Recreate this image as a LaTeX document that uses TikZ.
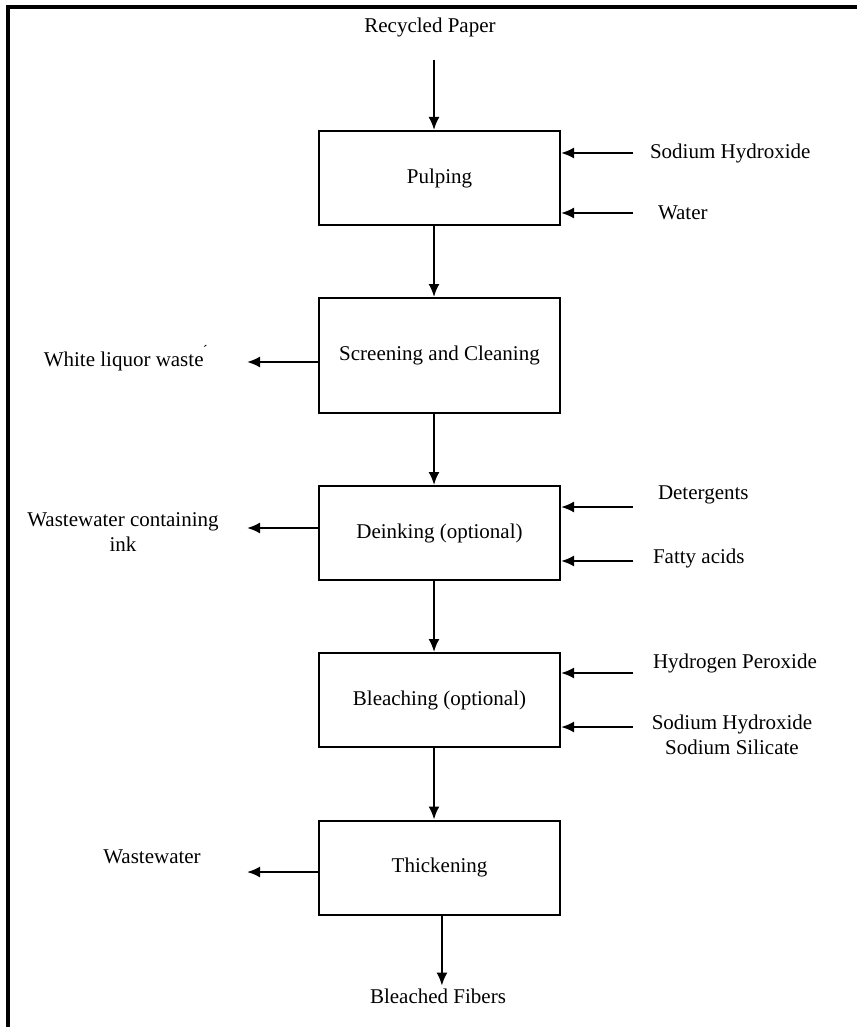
\documentclass[tikz,border=0pt]{standalone}
\usepackage{fontspec}
\setmainfont{Liberation Serif}
\usepackage{tikz}
\usetikzlibrary{arrows,arrows.meta,positioning}
\tikzstyle{stepbox}=[draw,line width=1pt,minimum width=120.5pt,minimum height=47pt,inner sep=2pt]
\tikzstyle{flowlabel}=[inner sep=1pt,align=center]
\begin{document}
\begin{tikzpicture}[x=0.5pt,y=-0.5pt,>={Latex[length=6.5pt,width=5.5pt]},line width=1pt,font=\fontsize{10.5}{12.5}\selectfont]
\useasboundingbox (0,0) rectangle (857,1027);
% frame
\draw[line width=2pt] (857,7.5) -- (7.5,7.5) -- (7.5,1027);
% main column
\draw (439.5,178) node [stepbox] (pulping) {Pulping};
\draw (439.5,355.5) node [stepbox, minimum height=57.5pt] (screening) {Screening and Cleaning};
\draw (439.5,533) node [stepbox] (deinking) {Deinking (optional)};
\draw (439.5,700) node [stepbox] (bleaching) {Bleaching (optional)};
\draw (439.5,867.5) node [stepbox] (thickening) {Thickening};
\draw (430,27) node [flowlabel] (paper) {Recycled Paper};
\draw (438,996) node [flowlabel] (fibers) {Bleached Fibers};
\coordinate (top) at (434,60);
\draw[->] (top) -- (top |- pulping.north);
\draw[->] (pulping.south -| top) -- (screening.north -| top);
\draw[->] (screening.south -| top) -- (deinking.north -| top);
\draw[->] (deinking.south -| top) -- (bleaching.north -| top);
\draw[->] (bleaching.south -| top) -- (thickening.north -| top);
\draw[->] (thickening.south -| fibers.north east) ++(-67,0) coordinate (out) -- (out |- fibers.north);
% inputs on the right
\draw (647,153) node [flowlabel, anchor=west] (naoh1) {Sodium Hydroxide};
\draw (655,213) node [flowlabel, anchor=west] (water) {Water};
\draw (655,495) node [flowlabel, anchor=west] (deterg) {Detergents};
\draw (650,558) node [flowlabel, anchor=west] (fatty) {Fatty acids};
\draw (650,663) node [flowlabel, anchor=west] (hperox) {Hydrogen Peroxide};
\draw (732,735) node [flowlabel] (naoh2) {Sodium Hydroxide\\Sodium Silicate};
\coordinate (r1) at (633,153);
\coordinate (r2) at (633,213);
\coordinate (r3) at (633,507);
\coordinate (r4) at (633,561);
\coordinate (r5) at (633,673);
\coordinate (r6) at (633,727);
\draw[->] (r1) -- (r1 -| pulping.east);
\draw[->] (r2) -- (r2 -| pulping.east);
\draw[->] (r3) -- (r3 -| deinking.east);
\draw[->] (r4) -- (r4 -| deinking.east);
\draw[->] (r5) -- (r5 -| bleaching.east);
\draw[->] (r6) -- (r6 -| bleaching.east);
% outputs on the left
\draw (126,358) node [flowlabel] (liquor) {White liquor waste\textsuperscript{\'{}}};
\draw (123,532) node [flowlabel] (inkwater) {Wastewater containing\\ink};
\draw (152,857) node [flowlabel] (waste) {Wastewater};
\coordinate (l1) at (247,362);
\coordinate (l2) at (247,528);
\coordinate (l3) at (247,872);
\draw[->] (l1 -| screening.west) -- (l1);
\draw[->] (l2 -| deinking.west) -- (l2);
\draw[->] (l3 -| thickening.west) -- (l3);
\end{tikzpicture}
\end{document}
